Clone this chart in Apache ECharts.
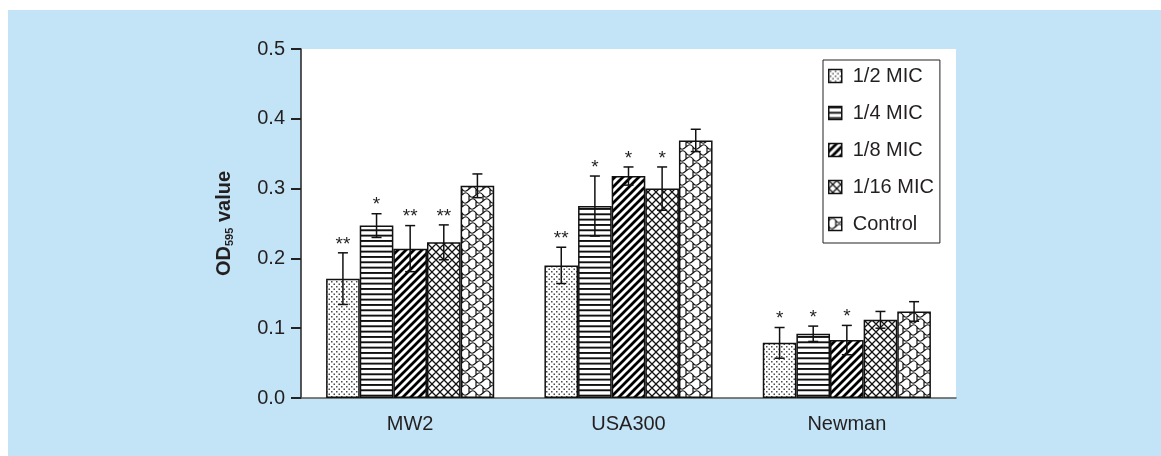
<!DOCTYPE html>
<html>
<head>
<meta charset="utf-8">
<script src="https://cdn.jsdelivr.net/npm/echarts@6/dist/echarts.min.js"></script>
<style>
  html, body { margin: 0; padding: 0; background: #ffffff; }
  #panel { position: absolute; left: 8px; top: 10px; right: 0; bottom: 0; background: #c2e4f6; }
  #chart { position: absolute; left: 0; top: 0; width: 1161px; height: 456px; }
</style>
</head>
<body>
<div id="panel"></div>
<div id="chart"></div>
<script>
// Biofilm OD595 readings per strain and sub-MIC treatment
const strains = ['MW2', 'USA300', 'Newman'];
const groups = ['1/2 MIC', '1/4 MIC', '1/8 MIC', '1/16 MIC', 'Control'];

const half      = [0.171, 0.190, 0.079];
const quarter   = [0.247, 0.275, 0.092];
const eighth    = [0.214, 0.318, 0.083];
const sixteenth = [0.223, 0.300, 0.112];
const control   = [0.304, 0.369, 0.124];

const halfErr      = [0.037, 0.026, 0.022];
const quarterErr   = [0.017, 0.043, 0.011];
const eighthErr    = [0.033, 0.013, 0.021];
const sixteenthErr = [0.025, 0.031, 0.012];
const controlErr   = [0.017, 0.016, 0.014];

const halfSig      = ['**', '**', '*'];
const quarterSig   = ['*', '*', '*'];
const eighthSig    = ['**', '*', '*'];
const sixteenthSig = ['**', '*', ''];
const controlSig   = ['', '', ''];

const yTicks = [0, 0.1, 0.2, 0.3, 0.4, 0.5];

const values = [half, quarter, eighth, sixteenth, control];
const errors = [halfErr, quarterErr, eighthErr, sixteenthErr, controlErr];
const signif = [halfSig, quarterSig, eighthSig, sixteenthSig, controlSig];

// ---- hatch fills ----
function tile(w, h, draw) {
  const c = document.createElement('canvas');
  c.width = w; c.height = h;
  const ctx = c.getContext('2d');
  ctx.fillStyle = '#ffffff';
  ctx.fillRect(0, 0, w, h);
  draw(ctx, w, h);
  return { image: c, repeat: 'repeat' };
}
const fills = [
  // stipple
  tile(5, 5, (ctx) => {
    ctx.fillStyle = '#4a4a4a';
    ctx.fillRect(1, 1, 1.5, 1.5);
    ctx.fillRect(3.5, 3.5, 1.5, 1.5);
  }),
  // horizontal rules
  tile(8, 16, (ctx, w) => {
    ctx.fillStyle = '#111';
    [0, 5.33, 10.67].forEach(y => ctx.fillRect(0, y, w, 1.9));
  }),
  // bold forward diagonals
  tile(8, 8, (ctx) => {
    ctx.strokeStyle = '#000';
    ctx.lineWidth = 2.8;
    ctx.beginPath();
    ctx.moveTo(-4, 4); ctx.lineTo(4, -4);
    ctx.moveTo(0, 8); ctx.lineTo(8, 0);
    ctx.moveTo(4, 12); ctx.lineTo(12, 4);
    ctx.stroke();
  }),
  // diamond crosshatch
  tile(8, 8, (ctx) => {
    ctx.strokeStyle = '#111';
    ctx.lineWidth = 1.3;
    ctx.beginPath();
    ctx.moveTo(-4, 4); ctx.lineTo(4, -4);
    ctx.moveTo(0, 8); ctx.lineTo(8, 0);
    ctx.moveTo(4, 12); ctx.lineTo(12, 4);
    ctx.moveTo(-4, 4); ctx.lineTo(4, 12);
    ctx.moveTo(0, 0); ctx.lineTo(8, 8);
    ctx.moveTo(4, -4); ctx.lineTo(12, 4);
    ctx.stroke();
  }),
  // wavy scales
  tile(14, 12, (ctx) => {
    ctx.strokeStyle = '#111';
    ctx.lineWidth = 1.2;
    ctx.beginPath();
    ctx.moveTo(0, 3);
    ctx.bezierCurveTo(3, 0, 5, 0, 7, 3);
    ctx.bezierCurveTo(9, 6, 11, 6, 14, 3);
    ctx.moveTo(-7, 9);
    ctx.bezierCurveTo(-4, 6, -2, 6, 0, 9);
    ctx.bezierCurveTo(2, 12, 4, 12, 7, 9);
    ctx.bezierCurveTo(10, 6, 12, 6, 14, 9);
    ctx.moveTo(7, 3); ctx.lineTo(7, 9);
    ctx.moveTo(0, 9); ctx.lineTo(0, 15);
    ctx.moveTo(0, -3); ctx.lineTo(0, 3);
    ctx.moveTo(14, -3); ctx.lineTo(14, 3);
    ctx.moveTo(14, 9); ctx.lineTo(14, 15);
    ctx.stroke();
  })
];

const CAT_GAP = 0.23;
const TXT = '#231f20';

const series = [];
groups.forEach((name, k) => {
  series.push({
    name: name,
    type: 'bar',
    data: values[k],
    barGap: '0%',
    barCategoryGap: (CAT_GAP * 100) + '%',
    itemStyle: { color: fills[k], borderColor: '#111', borderWidth: 1.5 },
    z: 2
  });
});
groups.forEach((name, k) => {
  series.push({
    name: name + ' SD',
    type: 'custom',
    z: 5,
    data: strains.map((s, i) => [i, values[k][i], errors[k][i]]),
    renderItem: function (params, api) {
      const i = api.value(0), v = api.value(1), e = api.value(2);
      const band = api.size([1, 0])[0];
      const groupW = band * (1 - CAT_GAP);
      const barW = groupW / groups.length;
      const cx = api.coord([i, v])[0] - groupW / 2 + (k + 0.5) * barW;
      const yTop = api.coord([i, v + e])[1];
      const yBot = api.coord([i, v - e])[1];
      const cap = 5;
      const st = { stroke: '#111', lineWidth: 1.5 };
      const children = [
        { type: 'line', shape: { x1: cx, y1: yTop, x2: cx, y2: yBot }, style: st },
        { type: 'line', shape: { x1: cx - cap, y1: yTop, x2: cx + cap, y2: yTop }, style: st },
        { type: 'line', shape: { x1: cx - cap, y1: yBot, x2: cx + cap, y2: yBot }, style: st }
      ];
      const mark = signif[k][i];
      if (mark) {
        children.push({
          type: 'text',
          style: {
            text: mark, x: cx, y: yTop + 1,
            align: 'center', verticalAlign: 'bottom',
            fill: TXT, font: '19px "Liberation Sans", Arial, sans-serif'
          }
        });
      }
      return { type: 'group', children: children };
    }
  });
});

const chart = echarts.init(document.getElementById('chart'), null, { renderer: 'canvas' });
chart.setOption({
  animation: false,
  backgroundColor: 'transparent',
  textStyle: { fontFamily: '"Liberation Sans", Arial, sans-serif', color: TXT },
  grid: {
    left: 301, right: 205, top: 49, bottom: 58,
    show: true, backgroundColor: '#ffffff', borderWidth: 0
  },
  legend: {
    data: groups.map(g => ({ name: g, icon: 'rect' })),
    orient: 'vertical',
    left: 823, top: 60,
    padding: [6, 6, 9, 5],
    itemGap: 17,
    itemWidth: 13, itemHeight: 13,
    backgroundColor: '#ffffff',
    borderColor: '#222', borderWidth: 1, borderRadius: 0,
    itemStyle: { borderColor: '#111', borderWidth: 1.5 },
    textStyle: { fontSize: 20, lineHeight: 19, color: TXT, padding: [0, 0, 0, 6] }
  },
  xAxis: {
    type: 'category',
    data: strains,
    axisLine: { lineStyle: { color: '#555', width: 1.5 } },
    axisTick: { length: 11, lineStyle: { color: '#222', width: 2 } },
    axisLabel: { fontSize: 20, color: TXT, margin: 16 }
  },
  yAxis: {
    type: 'value',
    min: yTicks[0], max: yTicks[yTicks.length - 1], interval: 0.1,
    splitLine: { show: false },
    axisLine: { show: true, lineStyle: { color: '#222', width: 1.5 } },
    axisTick: { show: true, length: 10, lineStyle: { color: '#222', width: 2 } },
    axisLabel: { fontSize: 20, color: TXT, margin: 16, formatter: v => v.toFixed(1) },
    name: '{a|OD}{b|595}{a| value}',
    nameLocation: 'middle',
    nameGap: 66,
    nameRotate: 90,
    nameTextStyle: {
      rich: {
        a: { fontSize: 20, fontWeight: 'bold', color: TXT, lineHeight: 22 },
        b: { fontSize: 11, fontWeight: 'bold', color: TXT, verticalAlign: 'bottom', lineHeight: 22 }
      }
    }
  },
  series: series
});
</script>
</body>
</html>
